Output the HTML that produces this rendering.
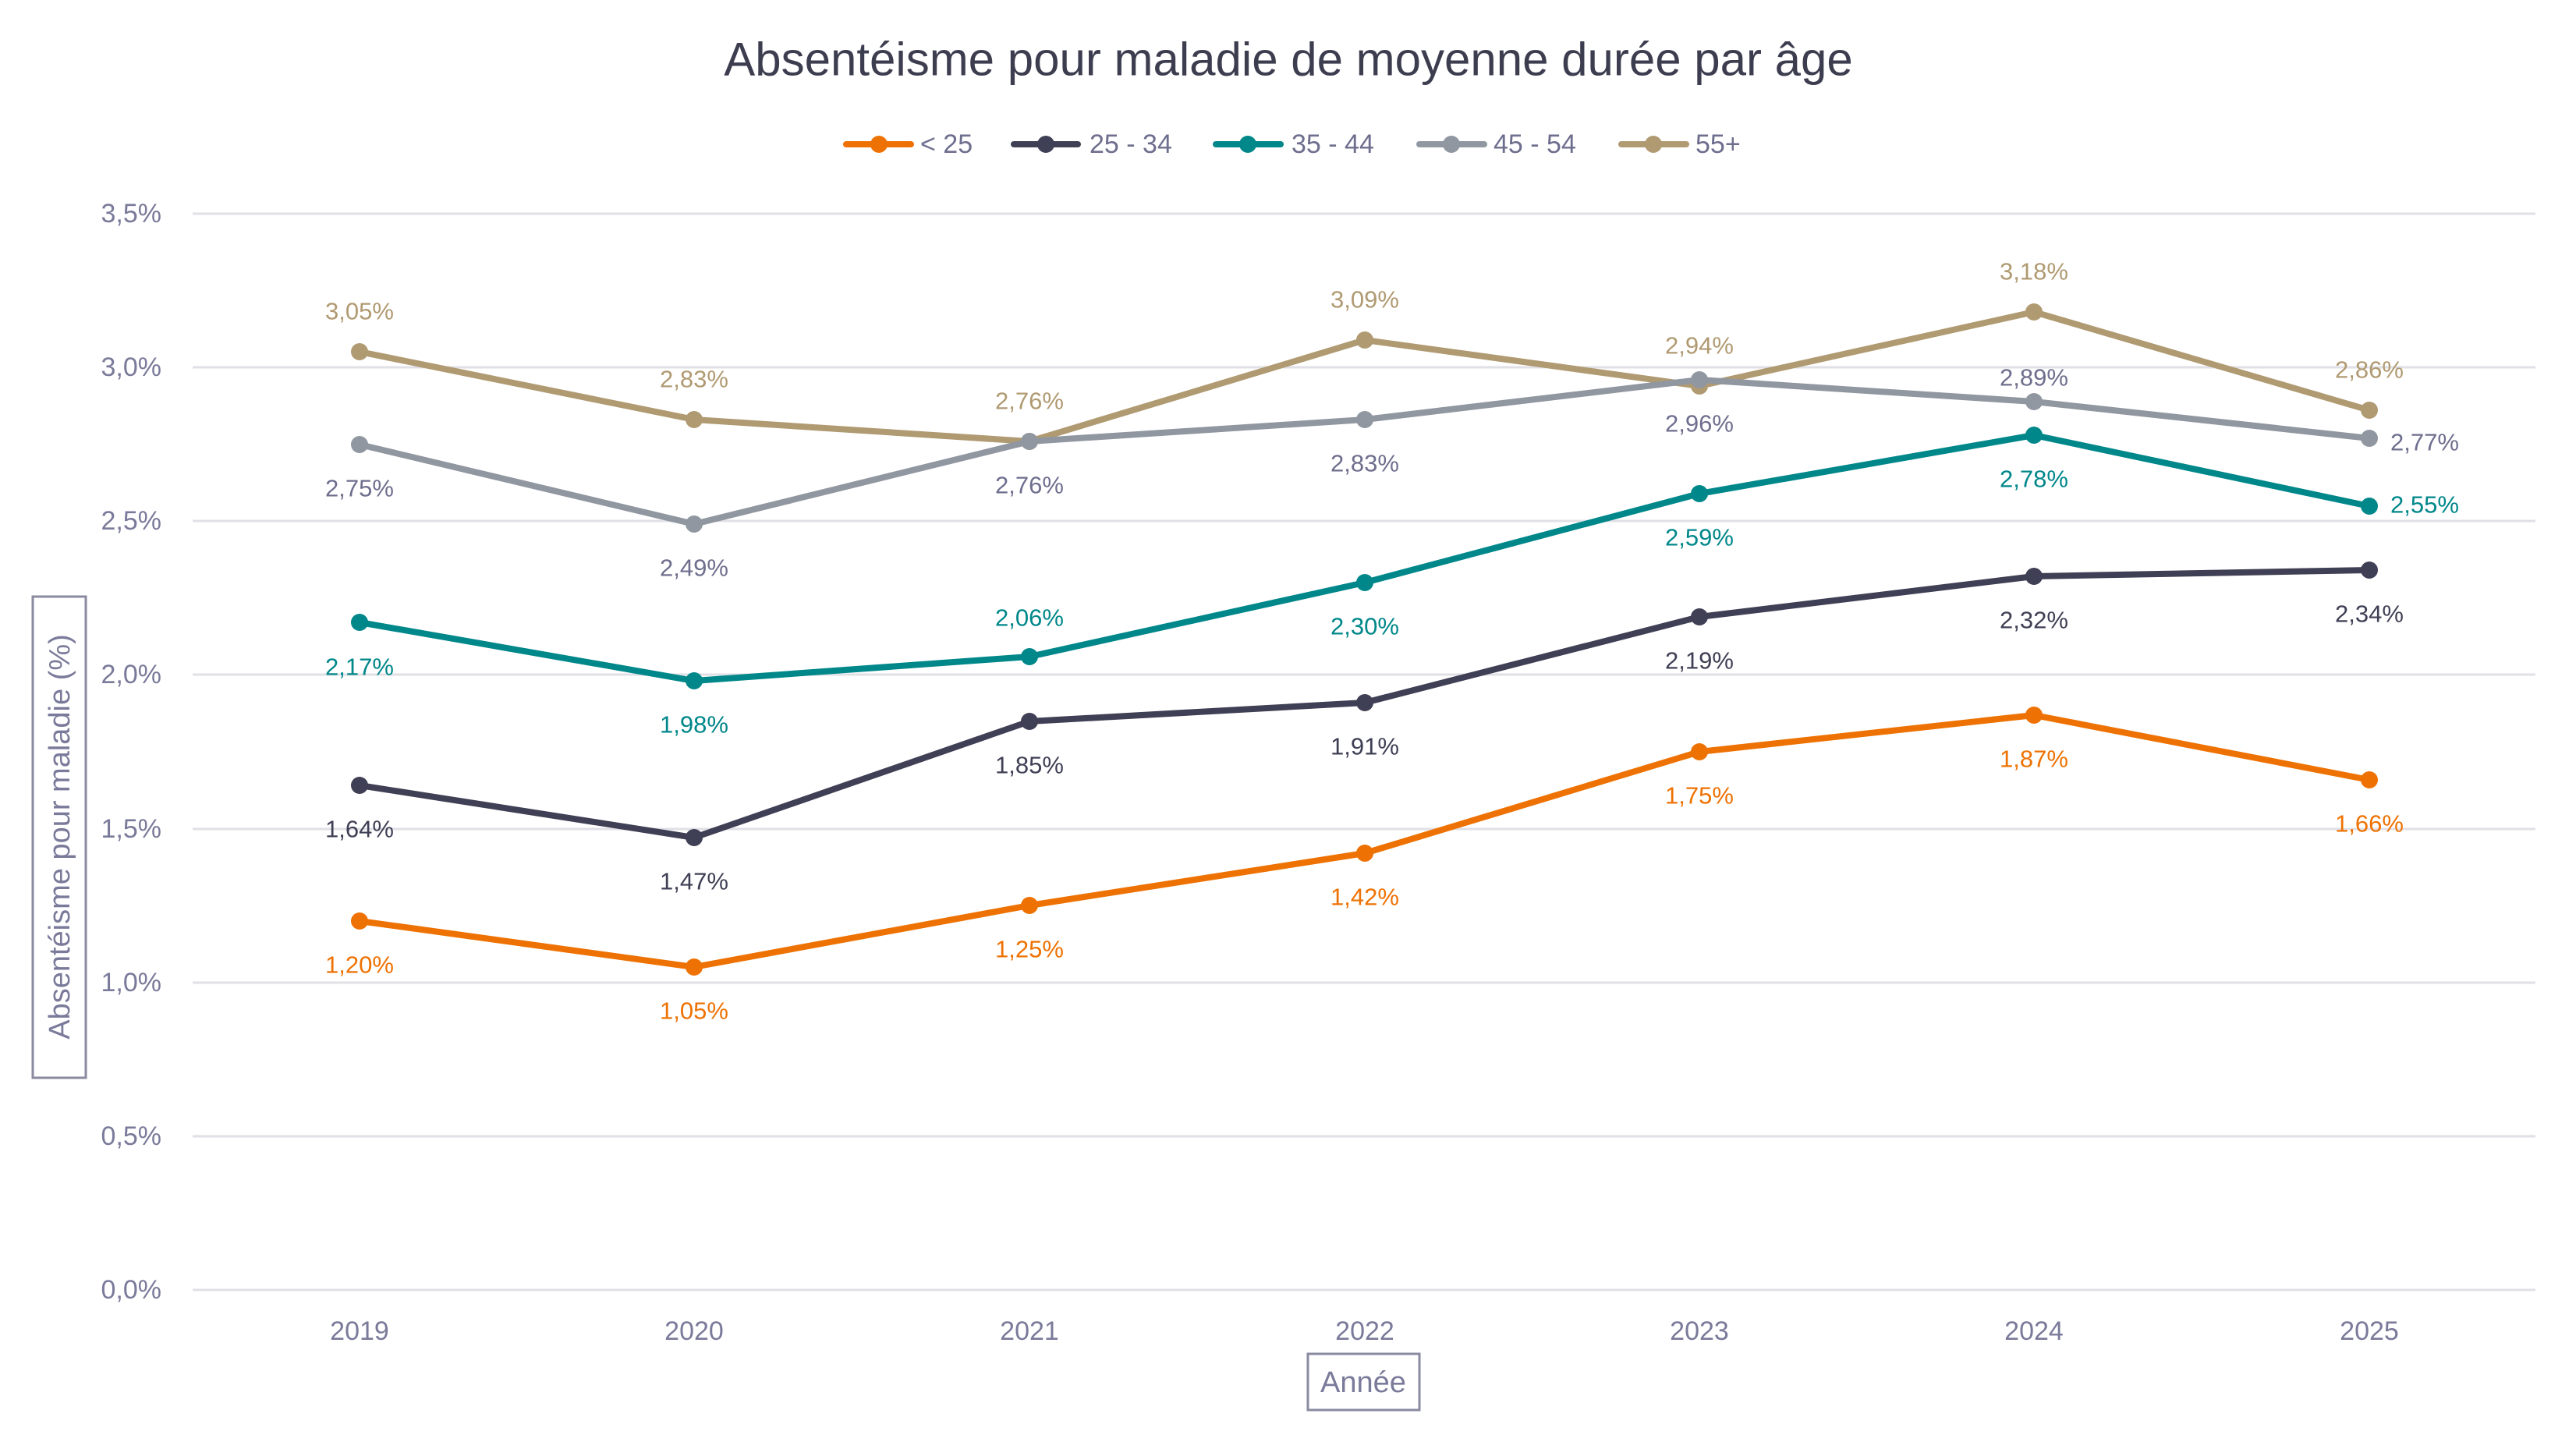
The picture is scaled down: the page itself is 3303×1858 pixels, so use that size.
<!DOCTYPE html>
<html><head><meta charset="utf-8"><style>
html,body{margin:0;padding:0;background:#fff;}
svg{display:block;font-family:"Liberation Sans",sans-serif;}
</style></head><body>
<svg width="3303" height="1858" viewBox="0 0 3303 1858" xmlns="http://www.w3.org/2000/svg">
<text x="1652" y="76" font-size="60" fill="#3d3d50" text-anchor="middle" dominant-baseline="central">Absentéisme pour maladie de moyenne durée par âge</text>
<g stroke-width="8" stroke-linecap="round">
<line x1="1085" y1="185" x2="1168" y2="185" stroke="#ee7203"/><circle cx="1127" cy="185" r="11" fill="#ee7203"/>
<line x1="1300" y1="185" x2="1382" y2="185" stroke="#3f3f55"/><circle cx="1341" cy="185" r="11" fill="#3f3f55"/>
<line x1="1559" y1="185" x2="1642" y2="185" stroke="#00878a"/><circle cx="1600" cy="185" r="11" fill="#00878a"/>
<line x1="1820" y1="185" x2="1903" y2="185" stroke="#9097a0"/><circle cx="1861" cy="185" r="11" fill="#9097a0"/>
<line x1="2079" y1="185" x2="2162" y2="185" stroke="#b09a72"/><circle cx="2120" cy="185" r="11" fill="#b09a72"/>
</g>
<g font-size="34" fill="#6e6e8e" dominant-baseline="central">
<text x="1180" y="185">&lt; 25</text><text x="1397" y="185">25 - 34</text><text x="1656" y="185">35 - 44</text><text x="1915" y="185">45 - 54</text><text x="2174" y="185">55+</text>
</g>
<g stroke="#e0e0e6" stroke-width="3">
<line x1="247" y1="274" x2="3251" y2="274"/><line x1="247" y1="471" x2="3251" y2="471"/><line x1="247" y1="668" x2="3251" y2="668"/><line x1="247" y1="865" x2="3251" y2="865"/><line x1="247" y1="1063" x2="3251" y2="1063"/><line x1="247" y1="1260" x2="3251" y2="1260"/><line x1="247" y1="1457" x2="3251" y2="1457"/><line x1="247" y1="1654" x2="3251" y2="1654"/>
</g>
<g font-size="34" fill="#7a7a9a" text-anchor="end" dominant-baseline="central">
<text x="207" y="274">3,5%</text><text x="207" y="471">3,0%</text><text x="207" y="668">2,5%</text><text x="207" y="865">2,0%</text><text x="207" y="1063">1,5%</text><text x="207" y="1260">1,0%</text><text x="207" y="1457">0,5%</text><text x="207" y="1654">0,0%</text>
</g>
<g font-size="34" fill="#7a7a9a" text-anchor="middle" dominant-baseline="central">
<text x="461" y="1707">2019</text><text x="890" y="1707">2020</text><text x="1320" y="1707">2021</text><text x="1750" y="1707">2022</text><text x="2179" y="1707">2023</text><text x="2608" y="1707">2024</text><text x="3038" y="1707">2025</text>
</g>
<rect x="1677" y="1736" width="143" height="72" fill="none" stroke="#8a8aa0" stroke-width="3"/>
<text x="1748" y="1773" font-size="38" fill="#7a7a9a" text-anchor="middle" dominant-baseline="central">Année</text>
<rect x="42" y="765" width="68" height="617" fill="none" stroke="#8a8aa0" stroke-width="3"/>
<text transform="translate(77,1073) rotate(-90)" font-size="38" fill="#7a7a9a" text-anchor="middle" dominant-baseline="central">Absentéisme pour maladie (%)</text>
<g fill="none" stroke-width="8" stroke-linejoin="round">
<polyline stroke="#b09a72" points="461,451 890,538 1320,566 1750,436 2179,495 2608,400 3038,526"/>
<polyline stroke="#9097a0" points="461,570 890,672 1320,566 1750,538 2179,487 2608,515 3038,562"/>
<polyline stroke="#00878a" points="461,798 890,873 1320,842 1750,747 2179,633 2608,558 3038,649"/>
<polyline stroke="#3f3f55" points="461,1007 890,1074 1320,925 1750,901 2179,791 2608,739 3038,731"/>
<polyline stroke="#ee7203" points="461,1181 890,1240 1320,1161 1750,1094 2179,964 2608,917 3038,1000"/>
</g>
<g fill="#b09a72"><circle cx="461" cy="451" r="11"/><circle cx="890" cy="538" r="11"/><circle cx="1320" cy="566" r="11"/><circle cx="1750" cy="436" r="11"/><circle cx="2179" cy="495" r="11"/><circle cx="2608" cy="400" r="11"/><circle cx="3038" cy="526" r="11"/></g>
<g fill="#9097a0"><circle cx="461" cy="570" r="11"/><circle cx="890" cy="672" r="11"/><circle cx="1320" cy="566" r="11"/><circle cx="1750" cy="538" r="11"/><circle cx="2179" cy="487" r="11"/><circle cx="2608" cy="515" r="11"/><circle cx="3038" cy="562" r="11"/></g>
<g fill="#00878a"><circle cx="461" cy="798" r="11"/><circle cx="890" cy="873" r="11"/><circle cx="1320" cy="842" r="11"/><circle cx="1750" cy="747" r="11"/><circle cx="2179" cy="633" r="11"/><circle cx="2608" cy="558" r="11"/><circle cx="3038" cy="649" r="11"/></g>
<g fill="#3f3f55"><circle cx="461" cy="1007" r="11"/><circle cx="890" cy="1074" r="11"/><circle cx="1320" cy="925" r="11"/><circle cx="1750" cy="901" r="11"/><circle cx="2179" cy="791" r="11"/><circle cx="2608" cy="739" r="11"/><circle cx="3038" cy="731" r="11"/></g>
<g fill="#ee7203"><circle cx="461" cy="1181" r="11"/><circle cx="890" cy="1240" r="11"/><circle cx="1320" cy="1161" r="11"/><circle cx="1750" cy="1094" r="11"/><circle cx="2179" cy="964" r="11"/><circle cx="2608" cy="917" r="11"/><circle cx="3038" cy="1000" r="11"/></g>
<g font-size="31" text-anchor="middle" dominant-baseline="central">
<g fill="#b09a72"><text x="461" y="399">3,05%</text><text x="890" y="486">2,83%</text><text x="1320" y="514">2,76%</text><text x="1750" y="384">3,09%</text><text x="2179" y="443">2,94%</text><text x="2608" y="348">3,18%</text><text x="3038" y="474">2,86%</text></g>
<g fill="#6e6e8e"><text x="461" y="626">2,75%</text><text x="890" y="728">2,49%</text><text x="1320" y="622">2,76%</text><text x="1750" y="594">2,83%</text><text x="2179" y="543">2,96%</text><text x="2608" y="484">2,89%</text><text x="3065" y="567" text-anchor="start">2,77%</text></g>
<g fill="#00878a"><text x="461" y="855">2,17%</text><text x="890" y="929">1,98%</text><text x="1320" y="792">2,06%</text><text x="1750" y="803">2,30%</text><text x="2179" y="689">2,59%</text><text x="2608" y="614">2,78%</text><text x="3065" y="647" text-anchor="start">2,55%</text></g>
<g fill="#3f3f55"><text x="461" y="1063">1,64%</text><text x="890" y="1130">1,47%</text><text x="1320" y="981">1,85%</text><text x="1750" y="957">1,91%</text><text x="2179" y="847">2,19%</text><text x="2608" y="795">2,32%</text><text x="3038" y="787">2,34%</text></g>
<g fill="#ee7203"><text x="461" y="1237">1,20%</text><text x="890" y="1296">1,05%</text><text x="1320" y="1217">1,25%</text><text x="1750" y="1150">1,42%</text><text x="2179" y="1020">1,75%</text><text x="2608" y="973">1,87%</text><text x="3038" y="1056">1,66%</text></g>
</g>
</svg>
</body></html>
